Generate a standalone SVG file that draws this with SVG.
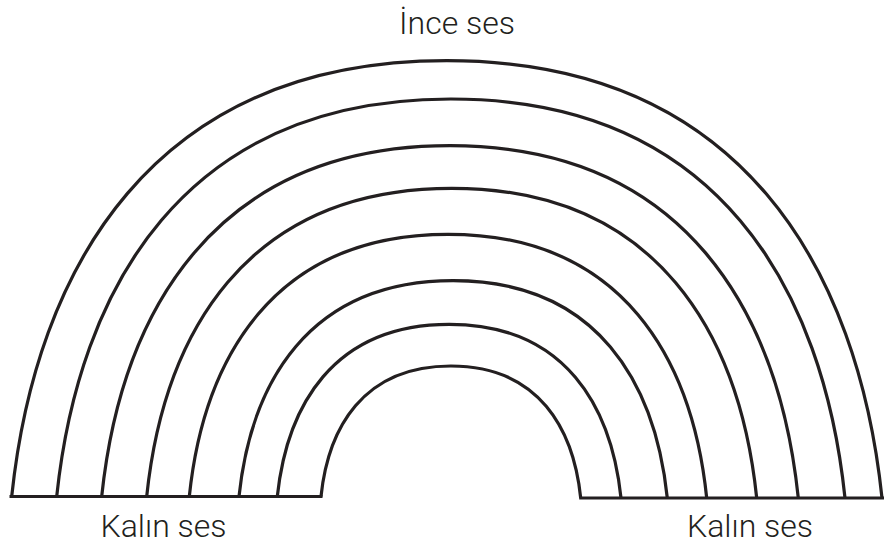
<svg xmlns="http://www.w3.org/2000/svg" width="884" height="547" viewBox="0 0 884 547">
<style>
.arc{fill:none;stroke:#231f20;stroke-width:3.2;stroke-linejoin:miter}
.lbl{font-family:Roboto,"Liberation Sans",sans-serif;font-weight:300;font-size:32px;fill:#231f20}
</style>
<rect width="884" height="547" fill="#ffffff"/>
<g id="rainbow">
<path class="arc" d="M11.7,496.5 C35.6,269.9 150.95,60.7 446.85,60.7 C742.75,60.7 858.1,270.6 882,498"/>
<path class="arc" d="M56.7,496.5 C78.4,289.8 182.85,99 450.85,99 C718.85,99 823.3,290.5 845,498"/>
<path class="arc" d="M101.7,496.5 C120.9,314.1 213.2,145.7 450,145.7 C686.8,145.7 779.1,314.8 798.3,498"/>
<path class="arc" d="M146.7,496.5 C163.5,336.2 244.3,188.3 451.7,188.3 C659.1,188.3 739.9,337 756.7,498"/>
<path class="arc" d="M189.3,496.5 C203.5,360.2 272.1,234.3 448,234.3 C623.9,234.3 692.5,360.9 706.7,498"/>
<path class="arc" d="M239,496.5 C250.8,384.3 307.55,280.7 453.15,280.7 C598.75,280.7 655.5,385 667.3,498"/>
<path class="arc" d="M277.3,496.5 C286.8,407 332.25,324.3 449.15,324.3 C566.05,324.3 611.5,407.7 621,498"/>
<path class="arc" d="M321,496.5 C328.1,428.6 362.55,366 450.85,366 C539.15,366 573.6,429.4 580.7,498"/>
<path class="arc" d="M9.5,496.5 H322.5"/>
<path class="arc" d="M579.2,498 H884"/>
</g>
<g id="labels">
<text class="lbl" x="457" y="33.5" text-anchor="middle">İnce ses</text>
<text class="lbl" x="163.5" y="537" text-anchor="middle">Kalın ses</text>
<text class="lbl" x="750" y="537" text-anchor="middle">Kalın ses</text>
</g>
</svg>
